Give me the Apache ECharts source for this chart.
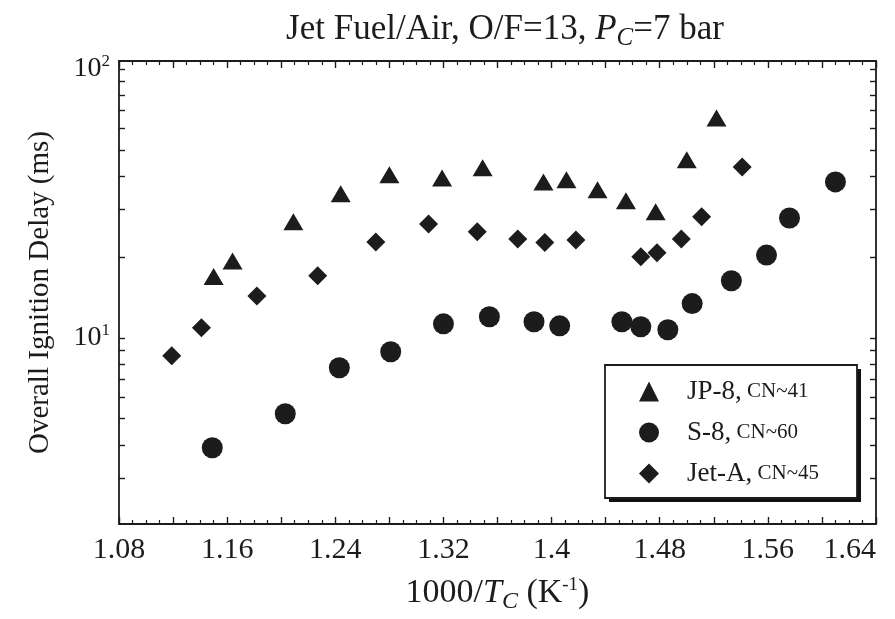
<!DOCTYPE html>
<html>
<head>
<meta charset="utf-8">
<script src="https://cdn.jsdelivr.net/npm/echarts@6/dist/echarts.min.js"></script>
<style>html,body{margin:0;padding:0;background:#fff;}#chart{width:895px;height:619px;}</style>
</head>
<body>
<div id="chart"></div>
<script>
// ---- data ----
const jp8X  = [1.150, 1.164, 1.209, 1.244, 1.280, 1.319, 1.349, 1.394, 1.411, 1.434, 1.455, 1.477, 1.500, 1.522];
const jp8Y  = [16.9, 19.3, 27.0, 34.3, 40.4, 39.3, 42.9, 38.0, 38.7, 35.5, 32.3, 29.4, 45.9, 65.7];
const s8X   = [1.149, 1.203, 1.243, 1.281, 1.320, 1.354, 1.387, 1.406, 1.452, 1.466, 1.486, 1.504, 1.533, 1.559, 1.576, 1.610];
const s8Y   = [3.90, 5.22, 7.74, 8.87, 11.27, 11.97, 11.47, 11.08, 11.47, 10.99, 10.71, 13.4, 16.3, 20.3, 27.9, 38.0];
const jetAX = [1.119, 1.141, 1.182, 1.227, 1.270, 1.309, 1.345, 1.375, 1.395, 1.418, 1.466, 1.478, 1.496, 1.511, 1.541];
const jetAY = [8.57, 10.9, 14.3, 17.0, 22.7, 26.5, 24.8, 23.3, 22.6, 23.1, 20.0, 20.7, 23.3, 28.2, 43.2];

const seriesNames = ['JP-8', 'S-8', 'Jet-A'];
const seriesCN = ['CN~41', 'CN~60', 'CN~45'];

const xLabelValues = [1.08, 1.16, 1.24, 1.32, 1.4, 1.48, 1.56, 1.64];
const yLabelValues = [10, 100];
const yTickValues = [3, 4, 5, 6, 7, 8, 9, 10, 20, 30, 40, 50, 60, 70, 80, 90, 100];

// ---- chart ----
const FONT = '"Liberation Serif", "Times New Roman", serif';
const INK = '#1c1c1c';
const zip = (xs, ys) => xs.map((x, i) => [x, ys[i]]);

const chart = echarts.init(document.getElementById('chart'), null, {renderer: 'canvas'});

const xCommon = {
  type: 'value', min: 1.08, max: 1.64, interval: 0.04,
  axisLine: {show: true, lineStyle: {color: INK, width: 1.8}},
  axisTick: {show: true, inside: true, length: 7, lineStyle: {color: INK, width: 1.4}},
  minorTick: {show: true, splitNumber: 4, length: 4, lineStyle: {color: INK, width: 1.2}},
  splitLine: {show: false}, minorSplitLine: {show: false}
};
const yCommon = {
  type: 'log', logBase: 10, min: 2.03, max: 107,
  axisLine: {show: true, lineStyle: {color: INK, width: 1.8}},
  axisTick: {show: true, inside: true, length: 6, customValues: yTickValues, lineStyle: {color: INK, width: 1.4}},
  splitLine: {show: false}
};
const supRich = {
  b: {fontFamily: FONT, fontSize: 28, color: INK},
  s: {fontFamily: FONT, fontSize: 17, color: INK, padding: [0, 0, 14, 0]}
};

const option = {
  backgroundColor: '#fff',
  animation: false,
  title: {
    left: 500, top: 4, textAlign: 'center',
    text: '{a|Jet Fuel/Air, O/F=13, }{p|P}{c|C}{a|=7 bar}',
    textStyle: {
      fontWeight: 'normal',
      rich: {
        a: {fontFamily: FONT, fontSize: 35, fontWeight: 'normal', color: INK},
        p: {fontFamily: FONT, fontSize: 35, fontWeight: 'normal', fontStyle: 'italic', color: INK},
        c: {fontFamily: FONT, fontSize: 25, fontWeight: 'normal', fontStyle: 'italic', color: INK, padding: [17, 0, 0, 0]}
      }
    }
  },
  grid: {left: 119, right: 19, top: 61, bottom: 95, show: false, outerBoundsMode: 'none', containLabel: false},
  graphic: [
    {type: 'rect', z: 1, silent: true, shape: {x: 609, y: 369, width: 252, height: 133}, style: {fill: '#111'}},
    {type: 'rect', z: 2, silent: true, shape: {x: 605, y: 365, width: 252, height: 133}, style: {fill: '#fff', stroke: INK, lineWidth: 1.8}}
  ],
  legend: {
    orient: 'vertical', left: 639, top: 378, z: 10,
    data: seriesNames,
    itemWidth: 20, itemHeight: 20, itemGap: 14,
    padding: 0,
    formatter: name => '{m|' + name + ',}{s| ' + seriesCN[seriesNames.indexOf(name)] + '}',
    textStyle: {
      rich: {
        m: {fontFamily: FONT, fontSize: 27, color: INK, lineHeight: 30, padding: [0, 0, 0, 23]},
        s: {fontFamily: FONT, fontSize: 21, color: INK, lineHeight: 30}
      }
    }
  },
  xAxis: [
    Object.assign({}, xCommon, {
      position: 'bottom',
      name: '{a|1000/}{i|T}{c|C}{a| (K}{u|-1}{a|)}',
      nameLocation: 'middle', nameGap: 48,
      nameTextStyle: {
        rich: {
          a: {fontFamily: FONT, fontSize: 34, color: INK},
          i: {fontFamily: FONT, fontSize: 34, fontStyle: 'italic', color: INK},
          c: {fontFamily: FONT, fontSize: 24, fontStyle: 'italic', color: INK, padding: [18, 0, 0, 0]},
          u: {fontFamily: FONT, fontSize: 19, color: INK, padding: [0, 0, 15, 0]}
        }
      },
      axisLabel: {
        show: true, margin: 11, customValues: xLabelValues, alignMaxLabel: 'right',
        fontFamily: FONT, fontSize: 30, color: INK,
        formatter: v => String(+v.toFixed(2))
      }
    }),
    Object.assign({}, xCommon, {position: 'top', axisLabel: {show: false}})
  ],
  yAxis: [
    Object.assign({}, yCommon, {
      position: 'left',
      name: 'Overall Ignition Delay (ms)',
      nameLocation: 'middle', nameGap: 64,
      nameTextStyle: {fontFamily: FONT, fontSize: 29, color: INK},
      axisLabel: {
        show: true, margin: 9, customValues: yLabelValues,
        formatter: v => '{b|10}{s|' + Math.round(Math.log10(v)) + '}',
        rich: supRich
      }
    }),
    Object.assign({}, yCommon, {position: 'right', axisLabel: {show: false}})
  ],
  series: [
    {name: seriesNames[0], type: 'scatter', data: zip(jp8X, jp8Y), symbol: 'triangle', symbolSize: [20, 17],
     itemStyle: {color: INK, opacity: 1}},
    {name: seriesNames[1], type: 'scatter', data: zip(s8X, s8Y), symbol: 'circle', symbolSize: 21,
     itemStyle: {color: INK, opacity: 1}},
    {name: seriesNames[2], type: 'scatter', data: zip(jetAX, jetAY), symbol: 'diamond', symbolSize: [19, 19],
     itemStyle: {color: INK, opacity: 1}}
  ]
};
chart.setOption(option);
</script>
</body>
</html>
